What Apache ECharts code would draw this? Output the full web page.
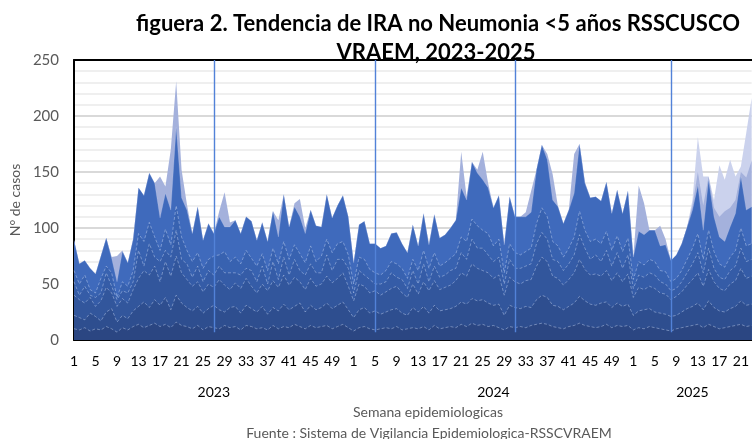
<!DOCTYPE html>
<html>
<head>
<meta charset="utf-8">
<script src="https://cdn.jsdelivr.net/npm/echarts@6/dist/echarts.min.js"></script>
<style>
html,body{margin:0;padding:0;background:#fff;}
#chart{width:752px;height:439px;}
</style>
</head>
<body>
<div id="chart"></div>
<script>
// ---- data ----
const years = ['2023', '2024', '2025'];
const weeksPerYear = [52, 52, 23];
const yearCenterWeeks = ['2023|27', '2024|27', '2025|12'];
const refLineWeeks = ['2023|27', '2024|5', '2024|31', '2025|8'];

// light envelope (top, medium lavender)
const envLight = [
  89,68,71,64,59,75,91,74,75,80,69,90,136,129,149,140,146,137,170,231,152,121,95,119,89,104,95,115,132,105,107,95,110,106,89,105,88,115,107,130,101,122,126,100,116,102,101,130,109,120,129,110,
  69,103,106,86,86,82,84,95,96,86,78,103,84,113,85,112,91,94,100,107,168,128,159,152,168,140,118,129,85,128,110,110,114,133,152,174,166,148,119,104,116,166,175,141,127,128,124,141,113,134,113,133,
  74,138,122,98,98,102,90,71,76,86,101,120,150,120,146,118,110,115,118,125,150,145,160
];
// lightest layer, 2025 only
const lightestWeeks = ['2025|9','2025|10','2025|11','2025|12','2025|13','2025|14','2025|15','2025|16','2025|17','2025|18','2025|19','2025|20','2025|21','2025|22','2025|23'];
const lightestValues = [76,86,101,125,181,146,146,125,156,143,161,146,155,185,216];

// blue envelope
const envBlue = [
  89,68,71,64,59,75,91,73,52,79,69,90,136,129,149,140,109,131,116,190,127,116,95,119,89,104,95,110,101,101,107,95,110,106,89,105,88,115,92,130,101,119,110,95,116,102,101,130,109,120,129,110,
  69,103,106,86,86,82,84,95,96,86,78,103,84,113,85,112,91,94,100,107,136,125,159,149,143,136,118,129,85,128,110,110,110,114,152,174,161,125,119,104,116,131,175,140,127,128,124,141,113,134,113,133,
  74,97,94,98,98,84,85,71,76,86,101,116,138,98,143,110,92,88,101,113,146,116,119
];
const level1 = [
  62,50,58,45,42,55,66,60,38,52,48,62,95,88,105,92,80,99,85,120,92,80,70,78,64,72,75,76,79,70,74,68,80,73,66,77,62,82,68,88,72,85,77,69,84,70,75,90,78,86,88,76,
  50,74,72,63,60,58,62,70,68,64,55,72,62,80,64,78,66,69,73,77,92,88,108,102,98,95,84,90,60,86,78,76,79,82,104,118,110,88,84,74,82,92,115,98,88,90,86,97,80,93,79,91,
  54,70,67,72,70,62,61,52,55,62,72,82,95,72,98,79,68,65,74,80,100,84,86
];
const level1b = [
  52,40,48,40,38,42,60,48,36,44,42,52,80,66,86,74,70,80,74,98,72,68,56,66,52,62,58,66,60,60,60,58,64,62,52,66,50,70,54,74,58,72,62,58,68,60,60,76,62,72,72,64,
  42,62,58,54,50,50,52,60,56,54,46,62,50,68,52,66,56,58,62,64,78,72,90,82,82,76,70,74,50,72,64,64,66,68,86,96,90,72,70,62,68,76,94,82,72,76,70,80,66,78,64,76,
  46,58,56,60,58,52,50,44,46,52,60,68,78,60,82,64,56,54,62,66,82,70,72
];
const level2 = [
  40,36,33,38,30,35,47,42,30,37,33,45,55,62,58,66,52,70,57,75,60,54,48,52,43,50,47,54,49,45,51,46,55,48,42,50,44,53,47,58,49,56,52,45,55,48,50,57,51,55,60,48,
  35,50,48,42,44,40,43,46,48,42,38,50,41,52,44,53,45,47,49,53,60,57,68,64,62,60,55,58,40,56,52,50,53,54,66,74,70,57,55,49,54,60,72,63,58,59,57,62,53,60,52,59,
  38,47,45,48,46,42,41,36,39,43,49,54,60,48,63,52,46,44,50,53,64,55,57
];
const level3 = [
  22,20,18,24,21,17,25,28,16,22,19,26,30,34,29,36,31,38,27,40,33,29,26,30,24,28,31,27,25,29,30,24,31,28,25,30,23,29,26,32,27,30,33,25,31,27,29,33,28,31,34,27,
  20,27,29,24,26,23,25,27,28,24,22,29,25,30,24,31,26,27,28,30,34,32,37,35,36,33,31,32,22,31,29,28,30,29,36,40,38,31,30,27,30,33,39,35,32,31,33,34,29,33,30,32,
  22,26,27,28,25,24,23,21,22,25,28,30,33,27,35,29,26,25,28,30,35,31,32
];
const level4 = [
  10,9,11,8,10,9,12,10,7,11,9,12,14,11,13,15,12,14,11,16,13,12,10,13,9,12,11,10,13,11,12,9,13,12,10,11,9,13,10,12,11,14,12,10,13,11,12,13,10,12,14,11,
  8,11,12,10,9,10,11,10,12,9,10,11,10,12,9,13,10,11,12,11,14,12,15,13,14,12,13,11,9,12,11,12,11,13,14,15,14,12,11,10,12,13,15,13,12,11,12,14,11,13,12,13,
  9,11,10,12,11,10,9,8,10,11,12,13,14,11,14,12,10,11,12,13,14,12,13
];

// ---- build categories ----
const categories = [];
years.forEach((y, k) => { for (let w = 1; w <= weeksPerYear[k]; w++) categories.push(y + '|' + w); });

const FONT = 'Lato';
const innerLine = { color: 'rgba(205,218,245,0.55)', width: 0.8, type: [3, 2] };

function area(name, data, fill, line) {
  return {
    name, type: 'line', data, symbol: 'none', silent: true,
    lineStyle: line || { width: 0 },
    areaStyle: { color: fill, opacity: 1 },
    animation: false
  };
}

const chart = echarts.init(document.getElementById('chart'), null, { renderer: 'canvas' });
const front = area('s6', level4, '#2b4682', innerLine);
front.markLine = {
  silent: true, symbol: 'none', animation: false,
  label: { show: false },
  lineStyle: { color: '#5282d8', width: 1.4, type: 'solid', opacity: 1 },
  data: refLineWeeks.map(c => [{ coord: [c, 7] }, { coord: [c, 250] }])
};
front.z = 3;

const textStyleBase = { align: 'center', verticalAlign: 'middle', textAlign: 'center', textVerticalAlign: 'middle' };

chart.setOption({
  animation: false,
  grid: { left: 74, right: -2, top: 60, bottom: 99, containLabel: false },
  xAxis: [
    {
      type: 'category', data: categories, boundaryGap: false,
      axisLine: { show: true, lineStyle: { color: '#000', width: 2 } },
      axisTick: { show: false },
      axisLabel: { interval: 3, formatter: v => v.split('|')[1], color: '#000', fontSize: 14, fontFamily: FONT, margin: 14 },
      splitLine: { show: false }
    },
    {
      type: 'category', data: categories, boundaryGap: false, position: 'bottom',
      axisLine: { show: false }, axisTick: { show: false },
      axisLabel: { interval: (i, v) => yearCenterWeeks.includes(v), formatter: v => v.split('|')[0], color: '#000', fontSize: 14, fontFamily: FONT, margin: 45 },
      splitLine: { show: false }
    },
    {
      type: 'category', data: categories, boundaryGap: false, position: 'top',
      axisLine: { show: true, lineStyle: { color: '#000', width: 2 } },
      axisTick: { show: false }, axisLabel: { show: false }, splitLine: { show: false }
    }
  ],
  yAxis: {
    type: 'value', min: 0, max: 250, interval: 50,
    name: 'N° de casos', nameLocation: 'middle', nameGap: 50,
    nameTextStyle: { color: '#595959', fontSize: 14, fontFamily: FONT },
    axisLine: { show: true, lineStyle: { color: '#000', width: 2 } },
    axisTick: { show: false },
    axisLabel: { color: '#595959', fontSize: 15, fontFamily: FONT, margin: 15 },
    splitLine: { show: true, lineStyle: { color: '#d9d9d9', width: 2 } },
    minorTick: { show: false, splitNumber: 5 },
    minorSplitLine: { show: true, lineStyle: { color: '#efefef', width: 2 } }
  },
  graphic: [
    { type: 'text', x: 438, y: 24, style: Object.assign({ text: 'figuera 2. Tendencia de IRA no Neumonia <5 años RSSCUSCO', fontFamily: FONT, fontWeight: 'bold', fontSize: 22, fill: '#000' }, textStyleBase) },
    { type: 'text', x: 436, y: 53, style: Object.assign({ text: 'VRAEM, 2023-2025', fontFamily: FONT, fontWeight: 'bold', fontSize: 22, fill: '#000' }, textStyleBase) },
    { type: 'text', x: 428, y: 412, style: Object.assign({ text: 'Semana epidemiologicas', fontFamily: FONT, fontSize: 14, fill: '#595959' }, textStyleBase) },
    { type: 'text', x: 429, y: 433, style: Object.assign({ text: 'Fuente : Sistema de Vigilancia Epidemiologica-RSSCVRAEM', fontFamily: FONT, fontSize: 14, fill: '#595959' }, textStyleBase) }
  ],
  series: [
    area('lightest', lightestWeeks.map((w, i) => [w, lightestValues[i]]), 'rgba(200,208,236,0.95)'),
    area('light', envLight, '#a4b1dc'),
    area('s1', envBlue, '#3f6abc', { color: 'rgba(205,218,245,0.35)', width: 0.6 }),
    area('s2', level1, '#3862b0', innerLine),
    area('s2b', level1b, '#355ca7', innerLine),
    area('s3', level2, '#32569c', innerLine),
    area('s4', level3, '#2e4e8f', innerLine),
    front
  ]
});
</script>
</body>
</html>
